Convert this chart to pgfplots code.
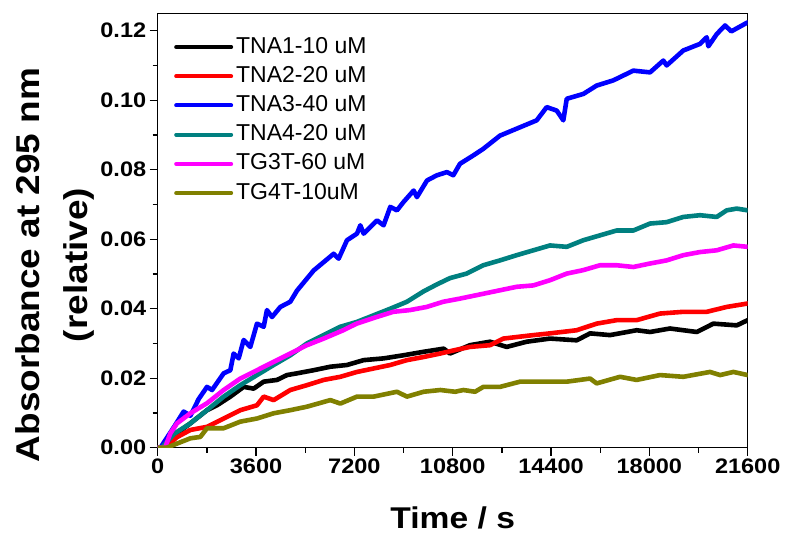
\documentclass[border=0pt]{standalone}
\usepackage{fontspec}
\setmainfont{Liberation Sans}
\newfontfamily\widesans{Liberation Sans}[FakeStretch=1.12]
\usepackage{pgfplots}
\pgfplotsset{compat=1.18}

\definecolor{cTNAone}{RGB}{0,0,0}
\definecolor{cTNAtwo}{RGB}{255,0,0}
\definecolor{cTNAthree}{RGB}{0,0,255}
\definecolor{cTNAfour}{RGB}{0,128,128}
\definecolor{cTGthree}{RGB}{255,0,255}
\definecolor{cTGfour}{RGB}{128,128,0}

\begin{document}
\begin{tikzpicture}
\begin{axis}[
  name=ax,
  scale only axis,
  width=590pt, height=434.4pt,
  xmin=0, xmax=21600, ymin=0, ymax=0.125,
  xtick={0,3600,7200,10800,14400,18000,21600},
  ytick={0,0.02,0.04,0.06,0.08,0.10,0.12},
  minor x tick num=1, minor y tick num=1,
  tick align=outside,
  xtick pos=bottom, ytick pos=left,
  major tick length=8pt, minor tick length=5pt,
  axis line style={line width=1.3pt},
  every tick/.style={line width=1.3pt, black},
  scaled ticks=false,
  /pgf/number format/assume math mode=true,
  xticklabel style={/pgf/number format/1000 sep={}},
  yticklabel style={/pgf/number format/fixed,
                    /pgf/number format/fixed zerofill,
                    /pgf/number format/precision=2},
  tick label style={font=\widesans\bfseries\fontsize{21}{25}\selectfont},
  xlabel={Time / s},
  xlabel style={font=\widesans\bfseries\fontsize{30}{36}\selectfont,
                at={(axis description cs:0.5,-0.187)}, anchor=base},
  ylabel={Absorbance at 295 nm\\(relative)},
  ylabel style={align=center,
                font=\widesans\bfseries\fontsize{33}{48}\selectfont,
                at={(axis description cs:-0.174,0.4206)}, anchor=center},
  legend cell align=left,
  legend image code/.code={\draw[#1,line width=4pt] (0pt,0pt) -- (55pt,0pt);},
  legend style={at={(axis description cs:0.0276,0.948)}, anchor=north west,
                draw=none, fill=none, inner sep=0pt, row sep=7.2pt,
                font=\fontsize{23}{27}\selectfont,
                nodes={inner xsep=3pt, inner ysep=0pt, text height=17pt, text depth=5pt}},
  every axis plot/.append style={line width=4.6pt, line join=round, line cap=round},
]

% TNA1-10 uM
\addplot[cTNAone] coordinates {
(0,0) (207,0) (600,0.0035) (1195,0.0070) (1805,0.0108) (2170,0.0122)
(2660,0.0147) (3147,0.0175) (3513,0.0170) (3880,0.0190) (4367,0.0195)
(4734,0.0209) (5100,0.0214) (5710,0.0223) (6320,0.0233) (6930,0.0238)
(7540,0.0252) (8270,0.0257) (9000,0.0266) (9737,0.0276) (10470,0.0285)
(10701,0.0271) (11433,0.0295) (12166,0.0305) (12776,0.0290) (13509,0.0305)
(14364,0.0314) (15340,0.0309) (15830,0.0329) (16560,0.0324) (17535,0.0338)
(18025,0.0333) (18755,0.0343) (19733,0.0333) (20343,0.0357) (21200,0.0352)
(21600,0.0367)
};
\addlegendentry{TNA1-10 uM}

% TNA2-20 uM
\addplot[cTNAtwo] coordinates {
(0,0) (270,0) (700,0.0030) (1195,0.0051) (1805,0.0060) (2415,0.0084)
(3025,0.0108) (3635,0.0122) (3880,0.0147) (4245,0.0137) (4855,0.0166)
(5465,0.0180) (6076,0.0195) (6686,0.0204) (7296,0.0218) (7906,0.0228)
(8515,0.0238) (9125,0.0252) (9737,0.0261) (10347,0.0271) (10890,0.0281)
(11433,0.0290) (12166,0.0295) (12654,0.0314) (13753,0.0324) (14364,0.0329)
(15340,0.0338) (16070,0.0357) (16803,0.0367) (17535,0.0367) (18390,0.0386)
(19243,0.0391) (20100,0.0391) (20830,0.0405) (21600,0.0415)
};
\addlegendentry{TNA2-20 uM}

% TNA3-40 uM
\addplot[cTNAthree] coordinates {
(0,0) (100,0) (600,0.0060) (950,0.0104) (1195,0.0092) (1500,0.0140)
(1805,0.0175) (1990,0.0166) (2415,0.0214) (2660,0.0223) (2780,0.0271)
(2965,0.0257) (3147,0.0310) (3390,0.0290) (3635,0.0357) (3880,0.0348)
(4000,0.0396) (4185,0.0376) (4490,0.0405) (4855,0.0420) (5100,0.0452)
(5710,0.0510) (6076,0.0534) (6442,0.0558) (6625,0.0544) (6930,0.0597)
(7296,0.0616) (7418,0.0640) (7540,0.0616) (8027,0.0654) (8270,0.0640)
(8515,0.0693) (8760,0.0683) (9000,0.0707) (9370,0.0740) (9490,0.0721)
(9860,0.0769) (10225,0.0784) (10590,0.0793) (10823,0.0784) (11067,0.0817)
(11555,0.0841) (11920,0.0860) (12532,0.0898) (13143,0.0918) (13875,0.0942)
(14242,0.0980) (14608,0.0970) (14850,0.0942) (14975,0.1004) (15583,0.1018)
(16070,0.1042) (16680,0.1057) (17413,0.1085) (18025,0.1080) (18511,0.1114)
(18633,0.1100) (19243,0.1143) (19855,0.1162) (20100,0.1181) (20160,0.1155)
(20465,0.1190) (20770,0.1215) (21000,0.1198) (21600,0.1224)
};
\addlegendentry{TNA3-40 uM}

% TNA4-20 uM
\addplot[cTNAfour] coordinates {
(0,0) (150,0) (600,0.0040) (1195,0.0070) (1805,0.0108) (2415,0.0147)
(3025,0.0180) (3635,0.0209) (4245,0.0238) (4855,0.0266) (5465,0.0300)
(6076,0.0324) (6686,0.0348) (7296,0.0362) (7906,0.0381) (8515,0.0400)
(9125,0.0420) (9737,0.0450) (10225,0.0470) (10700,0.0488) (11310,0.0501)
(11920,0.0525) (12532,0.0539) (13143,0.0554) (13753,0.0568) (14364,0.0582)
(14975,0.0578) (15583,0.0597) (16192,0.0611) (16803,0.0625) (17413,0.0625)
(18025,0.0645) (18633,0.0649) (19243,0.0664) (19855,0.0669) (20465,0.0664)
(20830,0.0683) (21200,0.0688) (21600,0.0683)
};
\addlegendentry{TNA4-20 uM}

% TG3T-60 uM
\addplot[cTGthree] coordinates {
(0,0) (270,0) (462,0.0041) (706,0.0070) (1195,0.0099) (1805,0.0128)
(2415,0.0166) (3025,0.0199) (3635,0.0223) (4245,0.0247) (4855,0.0271)
(5465,0.0295) (6076,0.0314) (6795,0.0338) (7283,0.0357) (8015,0.0376)
(8625,0.0391) (9235,0.0396) (9845,0.0405) (10455,0.0420) (11066,0.0429)
(11920,0.0443) (12532,0.0453) (13143,0.0463) (13753,0.0467) (14364,0.0482)
(14975,0.0501) (15583,0.0511) (16192,0.0525) (16803,0.0525) (17413,0.0520)
(18025,0.0530) (18633,0.0539) (19243,0.0554) (19855,0.0563) (20465,0.0568)
(21077,0.0582) (21600,0.0578)
};
\addlegendentry{TG3T-60 uM}

% TG4T-10 uM
\addplot[cTGfour] coordinates {
(0,0) (330,0) (584,0.0008) (1195,0.0027) (1560,0.0031) (1805,0.0056)
(2415,0.0056) (3025,0.0075) (3635,0.0084) (4245,0.0099) (4855,0.0108)
(5465,0.0118) (6320,0.0137) (6686,0.0127) (7296,0.0147) (7906,0.0147)
(8760,0.0161) (9125,0.0147) (9737,0.0161) (10347,0.0166) (10890,0.0161)
(11190,0.0166) (11617,0.0161) (11920,0.0175) (12532,0.0175) (13265,0.0190)
(14120,0.0190) (14975,0.0190) (15830,0.0199) (16070,0.0185) (16925,0.0204)
(17535,0.0195) (18390,0.0209) (19243,0.0204) (20220,0.0218) (20590,0.0209)
(21077,0.0218) (21600,0.0209)
};
\addlegendentry{TG4T-10uM}

\end{axis}
\path[use as bounding box] (ax.south west) ++(-157.7pt,-90.3pt) rectangle ++(787pt,538pt);
\end{tikzpicture}
\end{document}
